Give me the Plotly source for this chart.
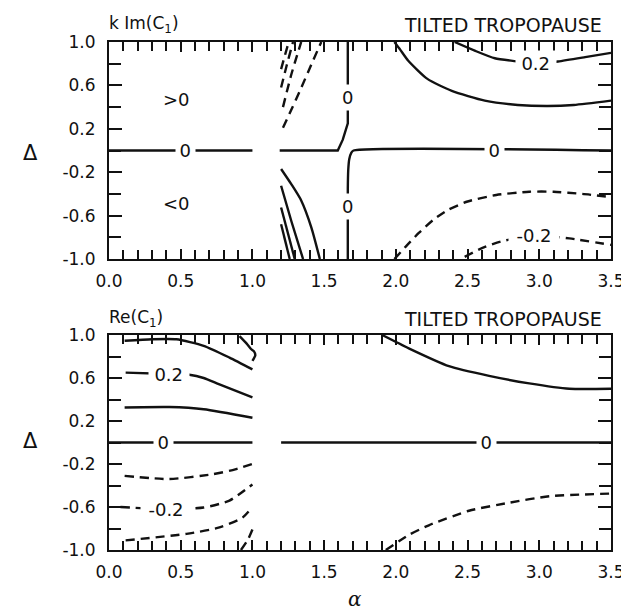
import plotly.graph_objects as go

# ---------------- data: top panel  k Im(C1) ----------------
im_zero_left_x = [0.0, 1.0]
im_zero_left_y = [0.0, 0.0]
im_zero_upper_x = [1.19, 1.595, 1.63, 1.655, 1.665, 1.665]
im_zero_upper_y = [0.0, 0.0, 0.10, 0.20, 0.25, 1.0]
im_zero_lower_x = [1.665, 1.665, 1.668, 1.675, 1.69, 1.705, 3.5]
im_zero_lower_y = [-1.0, -0.35, -0.18, -0.08, -0.02, 0.0, 0.0]

im_dash_a_x = [1.213, 1.28, 1.341, 1.41, 1.48]
im_dash_a_y = [0.21, 0.40, 0.58, 0.79, 1.0]
im_dash_b_x = [1.213, 1.271, 1.34]
im_dash_b_y = [0.40, 0.70, 1.0]
im_dash_c_x = [1.20, 1.24, 1.283]
im_dash_c_y = [0.58, 0.79, 1.0]
im_dash_d_x = [1.20, 1.225, 1.253]
im_dash_d_y = [0.75, 0.87, 1.0]

im_solid_a_x = [1.20, 1.271, 1.34, 1.411, 1.47]
im_solid_a_y = [-0.17, -0.31, -0.46, -0.71, -1.0]
im_solid_b_x = [1.20, 1.271, 1.353]
im_solid_b_y = [-0.325, -0.65, -1.0]
im_solid_c_x = [1.20, 1.295]
im_solid_c_y = [-0.525, -1.0]
im_solid_d_x = [1.20, 1.26]
im_solid_d_y = [-0.68, -1.0]

im_pos0_x = [1.99, 2.03, 2.085, 2.22, 2.39, 2.62, 2.85, 3.06, 3.24, 3.5]
im_pos0_y = [1.0, 0.93, 0.83, 0.66, 0.55, 0.46, 0.42, 0.41, 0.42, 0.46]
im_pos02_x = [2.41, 2.55, 2.69, 2.85, 2.98, 3.13, 3.32, 3.5]
im_pos02_y = [1.0, 0.92, 0.85, 0.82, 0.80, 0.82, 0.86, 0.90]

im_neg0_x = [1.99, 2.08, 2.16, 2.26, 2.36, 2.5, 2.7, 2.93, 3.1, 3.3, 3.5]
im_neg0_y = [-1.0, -0.87, -0.76, -0.64, -0.55, -0.47, -0.41, -0.38, -0.38, -0.40, -0.43]
im_neg02_x = [2.48, 2.6, 2.73, 2.96, 3.21, 3.5]
im_neg02_y = [-0.98, -0.90, -0.84, -0.78, -0.81, -0.87]

im_straight_lines = [
    (im_zero_left_x, im_zero_left_y), (im_zero_upper_x, im_zero_upper_y),
]
im_solid_lines = [
    (im_zero_lower_x, im_zero_lower_y), (im_solid_a_x, im_solid_a_y),
    (im_solid_b_x, im_solid_b_y), (im_solid_c_x, im_solid_c_y),
    (im_solid_d_x, im_solid_d_y), (im_pos0_x, im_pos0_y), (im_pos02_x, im_pos02_y),
]
im_dashed_lines = [
    (im_dash_a_x, im_dash_a_y), (im_dash_b_x, im_dash_b_y),
    (im_dash_c_x, im_dash_c_y), (im_dash_d_x, im_dash_d_y),
    (im_neg0_x, im_neg0_y), (im_neg02_x, im_neg02_y),
]

im_hlabel_text = ["0", "0", "0.2", "-0.2"]
im_hlabel_x = [0.53, 2.69, 2.98, 2.96]
im_hlabel_y = [0.0, 0.0, 0.80, -0.78]
im_vlabel_text = ["0", "0"]
im_vlabel_x = [1.665, 1.665]
im_vlabel_y = [0.49, -0.52]
im_region_text = [">0", "<0"]
im_region_x = [0.47, 0.47]
im_region_y = [0.47, -0.49]

# ---------------- data: bottom panel  Re(C1) ----------------
re_a_x = [0.109, 0.3, 0.47, 0.66, 0.84, 1.0]
re_a_y = [0.946, 0.96, 0.96, 0.90, 0.79, 0.68]
re_a_short_x = [0.91, 0.96, 0.99, 1.01, 1.02, 1.0]
re_a_short_y = [0.99, 0.92, 0.87, 0.85, 0.81, 0.76]
re_b_x = [0.116, 0.42, 0.56, 0.66, 0.77, 1.0]
re_b_y = [0.65, 0.637, 0.63, 0.60, 0.54, 0.42]
re_c_x = [0.109, 0.42, 0.66, 1.0]
re_c_y = [0.326, 0.33, 0.31, 0.23]
re_zero_left_x = [0.0, 1.0]
re_zero_left_y = [0.0, 0.0]
re_zero_right_x = [1.2, 3.5]
re_zero_right_y = [0.0, 0.0]
re_g_x = [1.905, 2.09, 2.37, 2.65, 2.93, 3.21, 3.5]
re_g_y = [1.0, 0.876, 0.71, 0.62, 0.55, 0.50, 0.50]

re_d_x = [0.109, 0.42, 0.725, 0.88, 1.0]
re_d_y = [-0.31, -0.34, -0.295, -0.25, -0.20]
re_e_x = [0.08, 0.40, 0.66, 0.84, 1.0]
re_e_y = [-0.60, -0.62, -0.605, -0.54, -0.39]
re_f_x = [0.116, 0.54, 0.77, 0.93, 1.0]
re_f_y = [-0.91, -0.85, -0.79, -0.70, -0.60]
re_f_short_x = [0.92, 0.97, 1.0]
re_f_short_y = [-1.0, -0.9, -0.81]
re_h_x = [1.93, 2.09, 2.23, 2.51, 2.79, 3.07, 3.5]
re_h_y = [-1.0, -0.86, -0.77, -0.635, -0.56, -0.50, -0.475]

re_straight_lines = [
    (re_zero_left_x, re_zero_left_y), (re_zero_right_x, re_zero_right_y),
]
re_solid_lines = [
    (re_a_x, re_a_y), (re_a_short_x, re_a_short_y), (re_b_x, re_b_y),
    (re_c_x, re_c_y), (re_g_x, re_g_y),
]
re_dashed_lines = [
    (re_d_x, re_d_y), (re_e_x, re_e_y), (re_f_x, re_f_y),
    (re_f_short_x, re_f_short_y), (re_h_x, re_h_y),
]

re_hlabel_text = ["0.2", "0", "-0.2", "0"]
re_hlabel_x = [0.42, 0.377, 0.40, 2.63]
re_hlabel_y = [0.637, 0.0, -0.62, 0.0]

# ---------------- axis ticks ----------------
x_tick_vals = [0.0, 0.5, 1.0, 1.5, 2.0, 2.5, 3.0, 3.5]
x_tick_text = ["0.0", "0.5", "1.0", "1.5", "2.0", "2.5", "3.0", "3.5"]
x_minor_vals = [i / 10 for i in range(36)]
y_tick_vals = [-1.0, -0.6, -0.2, 0.2, 0.6, 1.0]
y_tick_text = ["-1.0", "-0.6", "-0.2", "0.2", "0.6", "1.0"]
y_minor_vals = [-0.8, -0.4, 0.0, 0.4, 0.8]

panel_titles_left = ["k Im(C<sub>1</sub>)", "Re(C<sub>1</sub>)"]
panel_titles_right = ["TILTED TROPOPAUSE", "TILTED TROPOPAUSE"]

# ---------------- figure ----------------
FONT = "DejaVu Sans"
INK = "#111111"
fig = go.Figure()


def add_lines(lines, xa, ya, dashed, smooth=True):
    for xs, ys in lines:
        line = dict(color=INK, width=2.4, dash="9px,6px" if dashed else "solid")
        if smooth:
            line.update(shape="spline", smoothing=0.6)
        fig.add_trace(go.Scatter(
            x=xs, y=ys, mode="lines", xaxis=xa, yaxis=ya, showlegend=False,
            hoverinfo="skip", line=line,
        ))


add_lines(im_straight_lines, "x", "y", False, smooth=False)
add_lines(im_solid_lines, "x", "y", False)
add_lines(im_dashed_lines, "x", "y", True)
add_lines(re_straight_lines, "x2", "y2", False, smooth=False)
add_lines(re_solid_lines, "x2", "y2", False)
add_lines(re_dashed_lines, "x2", "y2", True)

annotations = []


def add_labels(texts, xs, ys, xref, yref, horizontal):
    for t, x, y in zip(texts, xs, ys):
        a = dict(text=t, x=x, y=y, xref=xref, yref=yref, showarrow=False,
                 font=dict(family=FONT, size=18, color=INK),
                 bgcolor="white", borderpad=2, xanchor="center", yanchor="middle")
        if horizontal:
            a["width"] = 10.5 * len(t) + 4
        annotations.append(a)


add_labels(im_hlabel_text, im_hlabel_x, im_hlabel_y, "x", "y", True)
add_labels(im_vlabel_text, im_vlabel_x, im_vlabel_y, "x", "y", False)
add_labels(re_hlabel_text, re_hlabel_x, re_hlabel_y, "x2", "y2", True)
for t, x, y in zip(im_region_text, im_region_x, im_region_y):
    annotations.append(dict(text=t, x=x, y=y, xref="x", yref="y", showarrow=False,
                            font=dict(family=FONT, size=18, color=INK)))

top_dom = [0.5728, 1.0]
bot_dom = [0.0, 0.4232]
title_y = [1.034, 0.455]
delta_y = [0.7815, 0.2146]
for i in range(2):
    annotations.append(dict(text=panel_titles_left[i], x=-0.004, y=title_y[i],
                            xref="paper", yref="paper", xanchor="left", yanchor="middle",
                            showarrow=False, font=dict(family=FONT, size=17, color=INK)))
    annotations.append(dict(text=panel_titles_right[i], x=0.986, y=title_y[i],
                            xref="paper", yref="paper", xanchor="right", yanchor="middle",
                            showarrow=False, font=dict(family=FONT, size=19, color=INK)))
    annotations.append(dict(text="Δ", x=-0.157, y=delta_y[i], xref="paper", yref="paper",
                            xanchor="center", yanchor="middle", showarrow=False,
                            font=dict(family=FONT, size=21, color=INK)))
annotations.append(dict(text="<i>α</i>", x=0.49, y=-0.097, xref="paper", yref="paper",
                        xanchor="center", yanchor="middle", showarrow=False,
                        font=dict(family="DejaVu Serif", size=20, color=INK)))


def xaxis(domain_y_anchor):
    return dict(
        range=[0, 3.5], anchor=domain_y_anchor, domain=[0, 1],
        tickmode="array", tickvals=x_tick_vals, ticktext=x_tick_text,
        ticks="inside", ticklen=10, tickwidth=1.6, tickcolor=INK,
        minor=dict(tickmode="array", tickvals=x_minor_vals, ticks="inside",
                   ticklen=9, tickwidth=1.6, tickcolor=INK, showgrid=False),
        mirror="ticks", showline=True, linewidth=2, linecolor=INK,
        showgrid=False, zeroline=False, ticklabelstandoff=6,
        tickfont=dict(family=FONT, size=17, color=INK),
    )


def yaxis(domain, x_anchor):
    return dict(
        range=[-1, 1], anchor=x_anchor, domain=domain,
        tickmode="array", tickvals=y_tick_vals, ticktext=y_tick_text,
        ticks="inside", ticklen=13, tickwidth=1.6, tickcolor=INK,
        minor=dict(tickmode="array", tickvals=y_minor_vals, ticks="inside",
                   ticklen=12, tickwidth=1.6, tickcolor=INK, showgrid=False),
        mirror="ticks", showline=True, linewidth=2, linecolor=INK,
        showgrid=False, zeroline=False, ticklabelstandoff=8,
        tickfont=dict(family=FONT, size=17, color=INK),
    )


fig.update_layout(
    width=629, height=613,
    margin=dict(l=101, r=26, t=34, b=71),
    paper_bgcolor="white", plot_bgcolor="white",
    xaxis=xaxis("y"), yaxis=yaxis(top_dom, "x"),
    xaxis2=xaxis("y2"), yaxis2=yaxis(bot_dom, "x2"),
    annotations=annotations,
    showlegend=False,
)

fig.write_html("out.html")
